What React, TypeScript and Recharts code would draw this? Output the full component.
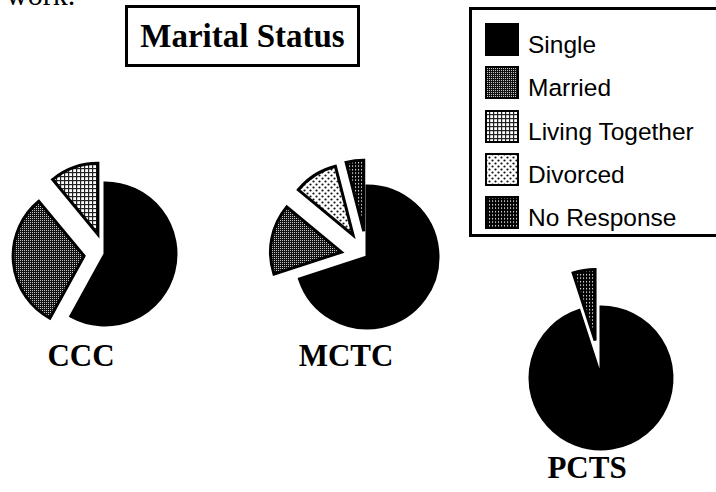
import { PieChart, Pie, Cell, Sector } from "recharts";

const categories = ["Single", "Married", "Living Together", "Divorced", "No Response"];
const patternIds = ["solid", "married", "living", "divorced", "noresp"];

const cccValues = [58, 31, 11, 0, 0];
const mctcValues = [70, 16, 0, 10, 4];
const pctsValues = [95, 0, 0, 0, 5];

const sites = ["CCC", "MCTC", "PCTS"];

const buildData = (values: number[]) =>
  categories
    .map((name, i) => ({ name, value: values[i], pat: patternIds[i] }))
    .filter((d) => d.value > 0);

const fillFor = (pat: string) => (pat === "solid" ? "#000" : `url(#${pat})`);

// pull every slice except "Single" out along its middle angle
const explodedShape = (off: number) => (props: any) => {
  const { cx, cy, midAngle, payload } = props;
  const name = payload?.name ?? props.name;
  const d = name === "Single" ? 0 : off;
  const rad = (midAngle * Math.PI) / 180;
  return <Sector {...props} cx={cx + d * Math.cos(rad)} cy={cy - d * Math.sin(rad)} />;
};

const Patterns = () => (
  <svg width={0} height={0} style={{ position: "absolute" }}>
    <defs>
      <pattern id="married" width={2} height={2} patternUnits="userSpaceOnUse">
        <rect width={2} height={2} fill="#111" />
        <rect width={1} height={1} fill="#c8c8c8" />
      </pattern>
      <pattern id="living" width={4} height={4} patternUnits="userSpaceOnUse">
        <rect width={4} height={4} fill="#fff" />
        <rect width={4} height={1.2} fill="#222" />
        <rect width={1.2} height={4} fill="#222" />
      </pattern>
      <pattern id="divorced" width={6} height={6} patternUnits="userSpaceOnUse">
        <rect width={6} height={6} fill="#fff" />
        <circle cx={1.5} cy={1.5} r={1.1} fill="#111" />
        <circle cx={4.5} cy={4.5} r={1.1} fill="#111" />
      </pattern>
      <pattern id="noresp" width={3} height={3.5} patternUnits="userSpaceOnUse">
        <rect width={3} height={3.5} fill="#000" />
        <rect x={1} y={1} width={1.1} height={1.3} fill="#fff" />
      </pattern>
    </defs>
  </svg>
);

const pies = [
  { values: cccValues, cx: 100, cy: 249, off: 21 },
  { values: mctcValues, cx: 362, cy: 252, off: 26 },
  { values: pctsValues, cx: 596, cy: 373, off: 38 },
];

const labelPos = [
  { x: 81, top: 338 },
  { x: 346, top: 338 },
  { x: 587, top: 450 },
];

const serif = '"Liberation Serif", "Times New Roman", serif';
const sans = '"Liberation Sans", Arial, sans-serif';

export default function App() {
  return (
    <div
      style={{
        position: "absolute",
        left: 0,
        top: 0,
        width: 716,
        height: 492,
        overflow: "hidden",
        background: "#fff",
      }}
    >
      <Patterns />
      {/* tail of the previous paragraph, cut by the page edge */}
      <div style={{ position: "absolute", left: 6, top: -20, fontFamily: serif, fontSize: 30, lineHeight: "30px" }}>
        work.
      </div>

      <PieChart width={716} height={492} style={{ position: "absolute", left: 0, top: 0 }}>
        {pies.map((p, k) => {
          const data = buildData(p.values);
          return (
            <Pie
              key={sites[k]}
              data={data}
              dataKey="value"
              nameKey="name"
              cx={p.cx}
              cy={p.cy}
              outerRadius={71}
              startAngle={90}
              endAngle={-270}
              stroke="#000"
              strokeWidth={3}
              label={false}
              labelLine={false}
              shape={explodedShape(p.off)}
              isAnimationActive={false}
            >
              {data.map((d) => (
                <Cell key={d.name} fill={fillFor(d.pat)} />
              ))}
            </Pie>
          );
        })}
      </PieChart>

      <div
        style={{
          position: "absolute",
          left: 125,
          top: 5,
          width: 229,
          height: 56,
          border: "3px solid #000",
          fontFamily: serif,
          fontWeight: "bold",
          fontSize: 33,
          lineHeight: "56px",
          textAlign: "center",
        }}
      >
        Marital Status
      </div>

      {sites.map((s, k) => (
        <div
          key={s}
          style={{
            position: "absolute",
            left: labelPos[k].x - 80,
            width: 160,
            top: labelPos[k].top,
            fontFamily: serif,
            fontWeight: "bold",
            fontSize: 31,
            textAlign: "center",
          }}
        >
          {s}
        </div>
      ))}

      <div
        style={{
          position: "absolute",
          left: 469,
          top: 7,
          width: 270,
          height: 224,
          border: "3px solid #000",
        }}
      >
        {categories.map((c, i) => (
          <div
            key={c}
            style={{ position: "absolute", left: 13, top: 13 + i * 43.3, display: "flex", alignItems: "flex-start" }}
          >
            <svg width={34} height={33}>
              <rect x={1} y={1} width={32} height={31} fill={fillFor(patternIds[i])} stroke="#000" strokeWidth={2} />
            </svg>
            <span
              style={{
                marginLeft: 9,
                marginTop: 5,
                fontFamily: sans,
                fontSize: 24.5,
                lineHeight: "33px",
                color: "#000",
              }}
            >
              {c}
            </span>
          </div>
        ))}
      </div>
    </div>
  );
}
